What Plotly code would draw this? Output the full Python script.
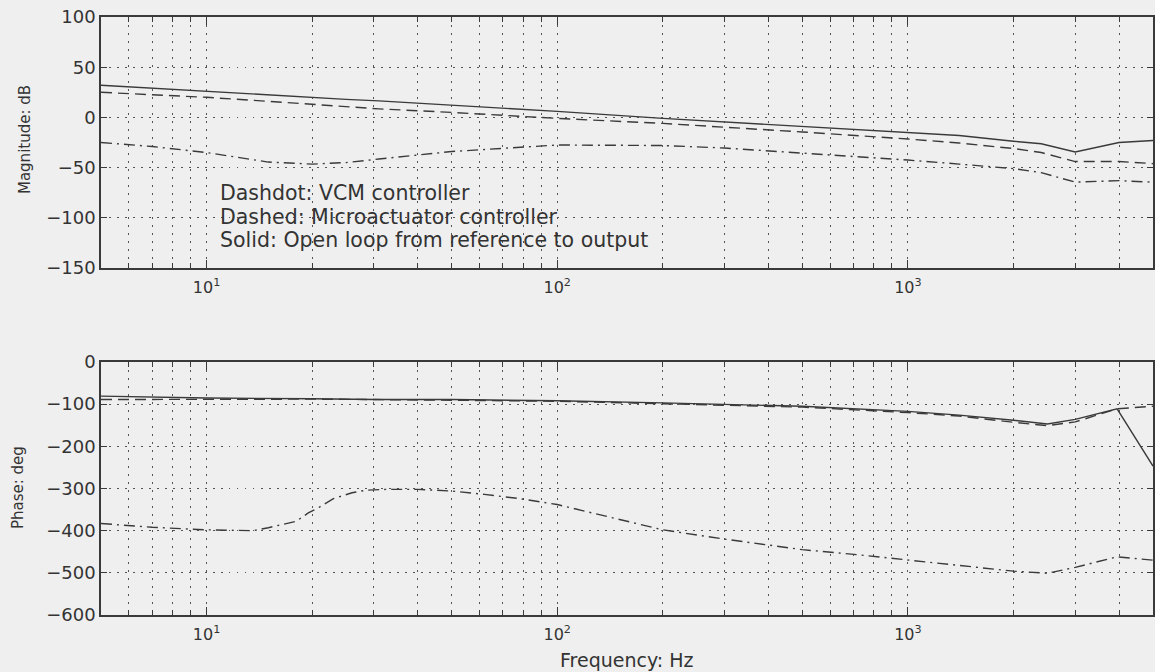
import plotly.graph_objects as go
from plotly.subplots import make_subplots

# ---------------- data ----------------
# Magnitude (dB)
freq_mag = [5, 7, 10, 15, 20, 25, 31, 50, 100, 200, 300, 500, 1000, 1400, 2000, 2400, 3000, 4000, 5000]
mag_open_loop = [32, 29, 26, 22.5, 19.5, 18, 16.5, 12.5, 6, -1, -4.5, -9.5, -15, -18, -23.7, -26.3, -34.5, -25, -23]
mag_micro = [25, 22.5, 20, 16, 13, 11, 8.5, 5, -1, -6, -9.5, -14.5, -21.5, -25.5, -31, -35, -44, -44, -46]
mag_vcm = [-25, -29, -35, -44.5, -46.5, -45, -41.5, -34, -27.5, -28, -30.5, -35.5, -42.5, -46.5, -51, -55, -64.5, -63, -64.5]

# Phase (deg)
freq_phase_loop = [5, 10, 20, 30, 50, 100, 200, 500, 1000, 1400, 2000, 2500, 3000, 3950, 5000]
phase_open_loop = [-81, -85.5, -87, -89, -89, -92, -97, -105, -117, -126, -138, -147, -136, -111, -247]
phase_micro = [-89, -88, -88, -89, -90, -93, -99, -107, -120, -128, -143, -151, -142, -111, -105]

freq_phase_vcm = [5, 7, 10, 13.6, 15, 18, 19.5, 21, 23, 26, 28.5, 32.5, 40, 50, 62, 78, 100,
                  200, 300, 430, 500, 720, 1000, 2000, 2500, 3000, 3950, 5000]
phase_vcm = [-383, -392, -398, -400, -393, -378, -358, -344, -324, -310, -304, -302, -302, -306, -314, -324, -338,
             -398, -420, -438, -445, -457, -469, -496, -501, -487, -462, -470]

x_major_ticks = [10, 100, 1000]
x_major_text = ["10<sup>1</sup>", "10<sup>2</sup>", "10<sup>3</sup>"]
mag_ticks = [100, 50, 0, -50, -100, -150]
phase_ticks = [0, -100, -200, -300, -400, -500, -600]

legend_lines = ["Dashdot: VCM controller",
                "Dashed: Microactuator controller",
                "Solid: Open loop from reference to output"]

# ---------------- styling ----------------
BG = "#efefef"
INK = "#3a3a3a"
TXT = "#333333"
FONT = "DejaVu Sans"
DASHED = "11px,6px"
DASHDOT = "11px,5px,2px,5px"
GRIDDASH = "1.5px,6.5px"

minor_vals = [m * 10 ** k for k in range(0, 4) for m in range(2, 10) if 5 <= m * 10 ** k <= 5000]

fig = make_subplots(rows=2, cols=1)

def add_line(x, y, dash, row):
    fig.add_trace(go.Scatter(x=x, y=y, mode="lines",
                             line=dict(color=INK, width=1.4, dash=dash),
                             showlegend=False, hoverinfo="skip"), row=row, col=1)

add_line(freq_mag, mag_open_loop, "solid", 1)
add_line(freq_mag, mag_micro, DASHED, 1)
add_line(freq_mag, mag_vcm, DASHDOT, 1)
add_line(freq_phase_loop, phase_open_loop, "solid", 2)
add_line(freq_phase_loop, phase_micro, DASHED, 2)
add_line(freq_phase_vcm, phase_vcm, DASHDOT, 2)

xcommon = dict(type="log", range=[0.69897, 3.69897], automargin=False,
               tickvals=x_major_ticks, ticktext=x_major_text, ticklabelstandoff=4,
               ticks="inside", ticklen=8, tickwidth=1.3, tickcolor=INK,
               showline=True, linecolor=INK, linewidth=1.5, mirror="ticks",
               showgrid=True, gridcolor="#555555", griddash=GRIDDASH, gridwidth=1.3,
               zeroline=False,
               tickfont=dict(family=FONT, size=16, color=TXT),
               minor=dict(tickvals=minor_vals, ticks="inside", ticklen=5, tickcolor=INK,
                          showgrid=True, gridcolor="#555555", griddash=GRIDDASH, gridwidth=1.3))

ycommon = dict(ticks="inside", ticklen=6, tickwidth=1.3, tickcolor=INK, automargin=False,
               showline=True, linecolor=INK, linewidth=1.5, mirror="ticks",
               showgrid=True, gridcolor="#555555", griddash=GRIDDASH, gridwidth=1.3,
               zeroline=False, tickfont=dict(family=FONT, size=18, color=TXT))

fig.update_xaxes(**xcommon)
fig.update_yaxes(**ycommon)
fig.update_xaxes(domain=[0, 1], row=1, col=1)
fig.update_xaxes(domain=[0, 1], row=2, col=1)
fig.update_yaxes(range=[-150, 100], tickvals=mag_ticks, domain=[0.6012, 0.9747], row=1, col=1)
fig.update_yaxes(range=[-600, 0], tickvals=phase_ticks, domain=[0.0848, 0.4613], row=2, col=1)

annotations = []
ys = [0.7128, 0.677, 0.643]
for txt, yy in zip(legend_lines, ys):
    annotations.append(dict(text=txt, x=0.111, y=yy, xref="paper", yref="paper",
                            xanchor="left", yanchor="middle", showarrow=False,
                            font=dict(family=FONT, size=20.5, color=TXT)))
annotations.append(dict(text="Magnitude: dB", x=-0.072, y=0.792, xref="paper", yref="paper",
                        textangle=-90, xanchor="center", yanchor="middle", showarrow=False,
                        font=dict(family=FONT, size=15, color=TXT)))
annotations.append(dict(text="Phase: deg", x=-0.079, y=0.275, xref="paper", yref="paper",
                        textangle=-90, xanchor="center", yanchor="middle", showarrow=False,
                        font=dict(family=FONT, size=15, color=TXT)))
annotations.append(dict(text="Frequency: Hz", x=0.5, y=0.018, xref="paper", yref="paper",
                        xanchor="center", yanchor="middle", showarrow=False,
                        font=dict(family=FONT, size=19, color=TXT)))

fig.update_layout(width=1155, height=672,
                  margin=dict(l=101, r=2, t=0, b=0, autoexpand=False),
                  paper_bgcolor=BG, plot_bgcolor=BG,
                  annotations=annotations, showlegend=False)

fig.write_html("out.html")
